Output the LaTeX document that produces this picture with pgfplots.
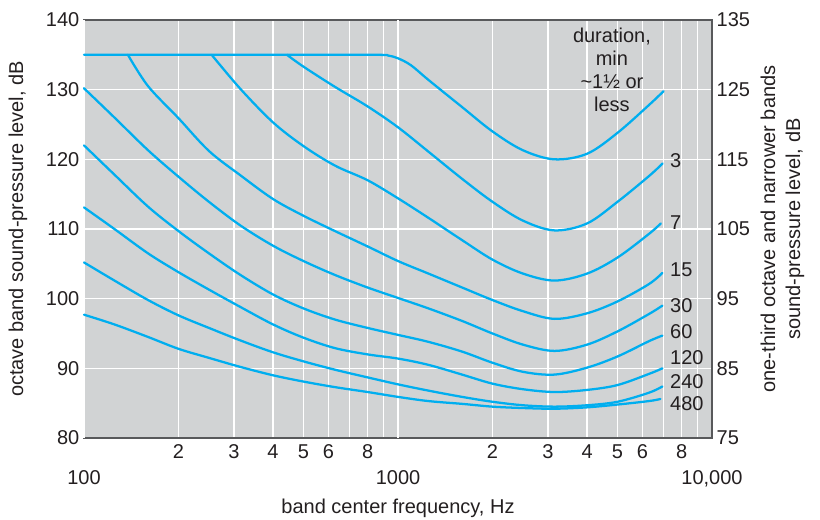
\documentclass[border=0pt]{standalone}
\usepackage{fontspec}
\setmainfont{Liberation Sans}
\usepackage{pgfplots}
\pgfplotsset{compat=1.18}
\definecolor{bg}{HTML}{D1D3D4}
\definecolor{curve}{HTML}{00AEEF}
\definecolor{txt}{HTML}{231F20}
\definecolor{frame}{HTML}{58595B}
\tikzset{crv/.style={curve, line width=1.7pt, smooth, tension=0.55, line cap=round, line join=round}}
\begin{document}
\begin{tikzpicture}
\begin{axis}[name=ax,
  scale only axis, width=471pt, height=313.5pt,
  xmode=log, xmin=100, xmax=10000,
  major tick length=0pt, minor tick length=0pt,
  axis line style={frame, line width=1pt},
  tick label style={font=\fontsize{15}{18}\selectfont, text=txt},
  label style={font=\fontsize{15}{18.75}\selectfont, text=txt},
  /pgf/number format/assume math mode=true,
  ymin=80, ymax=140, ytick={80,90,...,140},
  xtick={200,300,400,500,600,700,800,900,2000,3000,4000,5000,6000,7000,8000,9000},
  xticklabels={2,3,4,5,6,{},8,{},2,3,4,5,6,{},8,{}},
  xticklabel style={yshift=-1.5pt},
  extra x ticks={100,1000,10000},
  extra x tick labels={100,1000,{10,000}},
  extra x tick style={grid=major, xticklabel style={yshift=-19.5pt}},
  xmajorgrids=true, ymajorgrids=true,
  major grid style={white, line width=1.1pt},
  axis background/.style={fill=bg},
  xlabel={band center frequency, Hz},
  ylabel={octave band sound-pressure level, dB},
  xlabel style={at={(axis description cs:0.5,0)}, anchor=center, yshift=-52.5pt},
  ylabel style={at={(axis description cs:-0.1051,0.5)}, anchor=center},
  clip=false,
]
% 1 1/2 min or less
\addplot[crv] coordinates {(100,135) (400,135) (850,135) (930,134.9) (1000,134.5) (1100,133.5) (1250,131.4) (1600,127.5) (2000,124.0) (2500,121.3) (3150,120.0) (4000,120.8) (5000,123.8) (6300,127.8) (7015,129.8)};
% 3
\addplot[crv] coordinates {(443,135) (500,133.3) (630,130.4) (800,127.6) (1000,124.6) (1250,121.1) (1600,117.2) (2000,113.9) (2500,111.2) (3150,109.8) (4000,110.8) (5000,113.9) (6300,117.6) (6960,119.4)};
% 7
\addplot[crv] coordinates {(255,135) (315,130.1) (400,125.3) (500,121.9) (630,119.1) (800,117.0) (1000,114.4) (1250,111.6) (1600,108.4) (2000,105.6) (2500,103.6) (3150,102.6) (4000,103.6) (5000,105.9) (6300,109.3) (6870,110.8)};
% 15
\addplot[crv] coordinates {(138,135) (160,130.5) (200,125.9) (250,121.2) (315,117.7) (400,114.3) (500,111.9) (630,109.7) (800,107.5) (1000,105.4) (1250,103.6) (1600,101.6) (2000,99.8) (2500,98.2) (3150,97.1) (4000,97.9) (5000,99.6) (6300,102.1) (6950,103.7)};
% 30
\addplot[crv] coordinates {(100,130.2) (125,126.0) (160,121.3) (200,117.5) (250,113.9) (315,110.5) (400,107.6) (500,105.4) (630,103.4) (800,101.6) (1000,100.1) (1250,98.6) (1600,96.8) (2000,95.0) (2500,93.4) (3150,92.5) (4000,93.4) (5000,95.3) (6300,97.8) (6950,99.0)};
% 60
\addplot[crv] coordinates {(100,122.0) (125,117.8) (160,113.2) (200,109.7) (250,106.5) (315,103.4) (400,100.6) (500,98.6) (630,97.0) (800,95.8) (1000,94.8) (1250,93.8) (1600,92.4) (2000,90.8) (2500,89.5) (3150,89.1) (4000,90.1) (5000,91.7) (6300,93.9) (6950,94.7)};
% 120
\addplot[crv] coordinates {(100,113.1) (125,110.0) (160,106.5) (200,103.8) (250,101.3) (315,98.8) (400,96.3) (500,94.4) (630,92.9) (800,92.0) (1000,91.4) (1250,90.5) (1600,89.1) (2000,87.8) (2500,87.0) (3150,86.6) (4000,86.9) (5000,87.6) (6300,89.2) (6950,90.0)};
% 240
\addplot[crv] coordinates {(100,105.2) (125,102.6) (160,99.8) (200,97.6) (250,95.8) (315,94.0) (400,92.3) (500,91.0) (630,89.8) (800,88.7) (1000,87.7) (1250,86.8) (1600,85.9) (2000,85.2) (2500,84.7) (3150,84.5) (4000,84.7) (5000,85.2) (6300,86.5) (6950,87.4)};
% 480
\addplot[crv] coordinates {(100,97.7) (125,96.3) (160,94.5) (200,92.8) (250,91.5) (315,90.2) (400,89.0) (500,88.1) (630,87.3) (800,86.6) (1000,85.9) (1250,85.3) (1600,84.9) (2000,84.5) (2500,84.3) (3150,84.2) (4000,84.4) (5000,84.8) (6300,85.3) (6850,85.6)};
\begin{scope}[every node/.style={anchor=west, inner sep=0pt, text=txt, font=\fontsize{15}{18}\selectfont}]
\node at (axis cs:7345,119.8) {3};
\node at (axis cs:7345,110.9) {7};
\node at (axis cs:7345,104.2) {15};
\node at (axis cs:7345,99.0) {30};
\node at (axis cs:7345,95.2) {60};
\node at (axis cs:7345,91.5) {120};
\node at (axis cs:7345,88.1) {240};
\node at (axis cs:7345,85.0) {480};
\end{scope}
\node[align=center, text=txt, inner sep=0pt, font=\fontsize{15}{17.25}\selectfont] at (axis cs:4800,132.9) {duration,\\min\\\textasciitilde1½ or\\less};
\end{axis}
\begin{axis}[
  scale only axis, width=471pt, height=313.5pt,
  xmode=log, xmin=100, xmax=10000,
  major tick length=0pt, minor tick length=0pt,
  axis line style={frame, line width=1pt},
  tick label style={font=\fontsize{15}{18}\selectfont, text=txt},
  label style={font=\fontsize{15}{18.75}\selectfont, text=txt},
  /pgf/number format/assume math mode=true,
  ymin=75, ymax=135, ytick={75,85,...,135},
  axis y line*=right, axis x line=none,
  ylabel={one-third octave and narrower bands\\sound-pressure level, dB},
  ylabel style={at={(axis description cs:1.1123,0.5)}, anchor=center, align=center},
]
\addplot[draw=none] coordinates {(100,80)};
\end{axis}
\pgfresetboundingbox
\path[use as bounding box] ([shift={(-63pt,-61.5pt)}]ax.south west) rectangle ([shift={(81pt,15pt)}]ax.north east);
\end{tikzpicture}
\end{document}
